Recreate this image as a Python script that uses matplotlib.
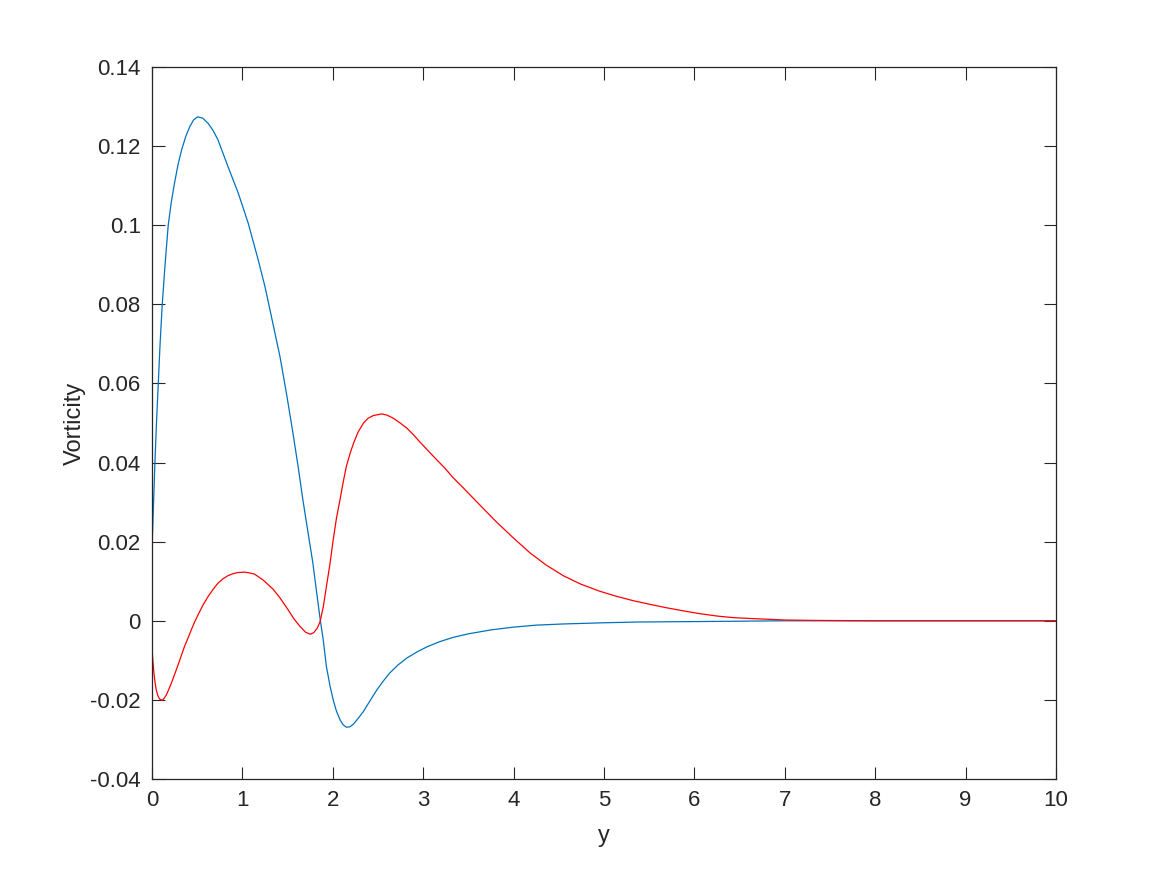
import numpy as np
import matplotlib.pyplot as plt

# values
x_blue = [0.0, 0.004, 0.015, 0.033, 0.05, 0.07, 0.09, 0.114, 0.145, 0.18, 0.215, 0.25,
          0.29, 0.33, 0.375, 0.42, 0.46, 0.505, 0.56, 0.62, 0.675, 0.73, 0.84, 0.955,
          1.065, 1.176, 1.25, 1.33, 1.416, 1.49, 1.56, 1.62, 1.67, 1.73, 1.78, 1.82,
          1.86, 1.895, 1.93, 1.97, 2.005, 2.04, 2.08, 2.115, 2.15, 2.19, 2.23, 2.28,
          2.34, 2.41, 2.49, 2.56, 2.63, 2.72, 2.82, 2.93, 3.04, 3.18, 3.33, 3.5, 3.75,
          4.0, 4.25, 4.55, 5.0, 5.4, 6.0, 6.5, 7.0, 8.0, 9.0, 10.0]
vort_blue = [0.015, 0.020, 0.028, 0.040, 0.050, 0.060, 0.070, 0.080, 0.090, 0.100,
             0.1060, 0.1107, 0.1155, 0.1192, 0.1225, 0.1250, 0.1266, 0.1274, 0.1271,
             0.1258, 0.1240, 0.1216, 0.1149, 0.1081, 0.1005, 0.0912, 0.0845, 0.0760,
             0.0668, 0.0572, 0.0474, 0.0385, 0.0305, 0.0218, 0.0146, 0.0075, 0.0005,
             -0.0049, -0.0116, -0.0165, -0.0200, -0.0228, -0.0250, -0.0263, -0.0269,
             -0.0268, -0.0261, -0.0247, -0.0229, -0.0203, -0.0174, -0.0152, -0.0132,
             -0.0112, -0.0094, -0.0079, -0.0066, -0.0053, -0.0042, -0.0033, -0.0023,
             -0.0016, -0.0011, -0.0008, -0.0005, -0.0003, -0.0002, -0.0001, 0.0, 0.0,
             0.0, 0.0]

x_red = [0.0, 0.01, 0.022, 0.035, 0.048, 0.065, 0.085, 0.114, 0.135, 0.158, 0.185,
         0.214, 0.25, 0.288, 0.325, 0.36, 0.40, 0.435, 0.47, 0.51, 0.565, 0.62, 0.675,
         0.73, 0.785, 0.84, 0.895, 0.95, 1.025, 1.08, 1.135, 1.23, 1.34, 1.416, 1.5,
         1.57, 1.637, 1.70, 1.75, 1.79, 1.83, 1.86, 1.895, 1.93, 1.97, 2.005, 2.04,
         2.08, 2.115, 2.15, 2.19, 2.23, 2.28, 2.34, 2.39, 2.45, 2.54, 2.6, 2.67, 2.74,
         2.82, 2.89, 2.96, 3.05, 3.15, 3.24, 3.33, 3.44, 3.52, 3.63, 3.81, 4.0, 4.18,
         4.36, 4.55, 4.74, 4.95, 5.12, 5.32, 5.5, 5.69, 5.88, 6.06, 6.25, 6.43, 6.6,
         6.8, 7.0, 7.3, 8.0, 9.0, 10.0]
vort_red = [-0.0069, -0.0100, -0.0133, -0.0157, -0.0175, -0.0189, -0.0198, -0.0201,
            -0.0196, -0.0188, -0.0174, -0.0158, -0.0136, -0.0112, -0.0088, -0.0065,
            -0.0043, -0.0023, -0.0004, 0.0015, 0.0040, 0.0061, 0.0079, 0.0095, 0.0106,
            0.0114, 0.0119, 0.0122, 0.0123, 0.0121, 0.0118, 0.0103, 0.0080, 0.0058,
            0.0030, 0.0005, -0.0014, -0.0029, -0.0034, -0.0030, -0.0018, -0.0002,
            0.0035, 0.0087, 0.0145, 0.0205, 0.0258, 0.0306, 0.0350, 0.0390, 0.0422,
            0.0449, 0.0477, 0.0500, 0.0512, 0.0519, 0.0523, 0.0520, 0.0512, 0.0501,
            0.0487, 0.0471, 0.0453, 0.0431, 0.0407, 0.0386, 0.0362, 0.0337, 0.0318,
            0.0292, 0.0250, 0.0209, 0.0172, 0.0141, 0.0114, 0.0093, 0.0075, 0.0063,
            0.0051, 0.0042, 0.0033, 0.0025, 0.0018, 0.0012, 0.0008, 0.0006, 0.0004,
            0.0002, 0.0001, 0.0, 0.0, 0.0]

x_ticks = list(range(0, 11))
y_ticks = [-0.04, -0.02, 0, 0.02, 0.04, 0.06, 0.08, 0.1, 0.12, 0.14]
y_tick_labels = ['-0.04', '-0.02', '0', '0.02', '0.04', '0.06', '0.08', '0.1', '0.12', '0.14']

plt.rcParams['font.family'] = ['Liberation Sans', 'DejaVu Sans']
axcol = '#262626'

fig = plt.figure(figsize=(11.67, 8.75), dpi=100)
ax = fig.add_axes([0.1302, 0.1097, 0.7747, 0.8137])

ax.plot(x_blue, vort_blue, color='#0072BD', lw=0.9)
ax.plot(x_red, vort_red, color='#FF0000', lw=0.9)

ax.set_xlim(0, 10)
ax.set_ylim(-0.04, 0.14)
ax.set_xticks(x_ticks)
ax.set_xticklabels([str(t) for t in x_ticks])
ax.set_yticks(y_ticks)
ax.set_yticklabels(y_tick_labels)

ax.tick_params(direction='in', length=9, width=0.8, colors=axcol, labelsize=16,
               top=True, right=True, pad=8)
for s in ax.spines.values():
    s.set_color(axcol)
    s.set_linewidth(0.9)

ax.set_xlabel('y', fontsize=17, color=axcol, labelpad=10)
ax.set_ylabel('Vorticity', fontsize=17, color=axcol, labelpad=3)

fig.savefig('out.png', dpi=100)
